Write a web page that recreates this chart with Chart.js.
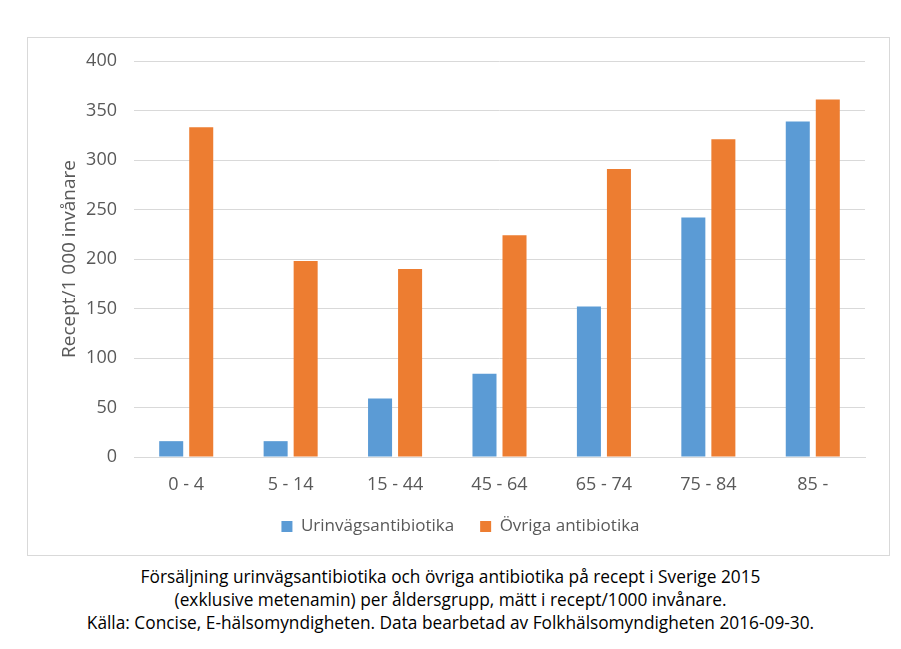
<!DOCTYPE html>
<html>
<head>
<meta charset="utf-8">
<script src="https://cdn.jsdelivr.net/npm/chart.js@4/dist/chart.umd.min.js"></script>
<style>
  html, body { margin: 0; padding: 0; background: #fff; }
  #frame {
    position: absolute; left: 27px; top: 37px;
    width: 861px; height: 517px;
    border: 1px solid #d9d9d9;
  }
  #chartBox { position: absolute; left: 0; top: 0; width: 861px; height: 517px; }
  #caption {
    position: absolute; left: 0; top: 565px; width: 901px;
    text-align: center;
    font-family: "Open Sans", sans-serif;
    font-size: 17.3px; line-height: 23px; color: #000;
  }
</style>
</head>
<body>
<div id="frame"><div id="chartBox"><canvas id="chart"></canvas></div></div>
<div id="caption">
  Försäljning urinvägsantibiotika och övriga antibiotika på recept i Sverige 2015<br>
  (exklusive metenamin) per åldersgrupp, mätt i recept/1000 invånare.<br>
  Källa: Concise, E-hälsomyndigheten. Data bearbetad av Folkhälsomyndigheten 2016-09-30.
</div>
<script>
  'use strict';

  var ageGroups = ['0 - 4', '5 - 14', '15 - 44', '45 - 64', '65 - 74', '75 - 84', '85 -'];
  var urinaryValues = [16, 16, 59, 84, 152, 242, 339];
  var otherValues = [333, 198, 190, 224, 291, 321, 361];
  var yTicks = [0, 50, 100, 150, 200, 250, 300, 350, 400];

  var TEXT_COLOR = '#595959';
  var GRID_COLOR = '#d9d9d9';
  var FONT = '"Open Sans", "Noto Sans", sans-serif';

  Chart.defaults.font.family = FONT;
  Chart.defaults.color = TEXT_COLOR;

  var ctx = document.getElementById('chart').getContext('2d');
  var chart = new Chart(ctx, {
    type: 'bar',
    data: {
      labels: ageGroups,
      datasets: [{
        label: 'Urinvägsantibiotika',
        data: urinaryValues,
        backgroundColor: '#5b9bd5'
      }, {
        label: 'Övriga antibiotika',
        data: otherValues,
        backgroundColor: '#ed7d31'
      }]
    },
    options: {
      responsive: true,
      maintainAspectRatio: false,
      animation: false,
      categoryPercentage: 0.575,
      barPercentage: 0.8,
      layout: {
        padding: { left: 28, right: 24, top: 23, bottom: 10 }
      },
      plugins: {
        legend: {
          position: 'bottom',
          labels: {
            boxWidth: 11,
            boxHeight: 11,
            padding: 26,
            font: { size: 17 }
          }
        },
        tooltip: { enabled: false }
      },
      scales: {
        x: {
          grid: { display: false, drawTicks: false },
          border: { color: GRID_COLOR },
          ticks: { font: { size: 18 }, padding: 17 },
          afterFit: function(axis) {
            // keep the gap between the axis labels and the legend tight
            axis.height = 35;
          }
        },
        y: {
          min: 0,
          max: 400,
          afterBuildTicks: function(axis) {
            axis.ticks = yTicks.map(function(v) { return { value: v }; });
          },
          afterFit: function(axis) {
            axis.width = 78;
            axis.paddingTop = 0;
          },
          grid: { color: GRID_COLOR, drawTicks: false },
          border: { display: false },
          ticks: { font: { size: 18 }, padding: 17 },
          title: {
            display: true,
            text: 'Recept/1 000 invånare',
            font: { size: 19 },
            padding: { top: 2, bottom: 4 }
          }
        }
      }
    }
  });
</script>
</body>
</html>
